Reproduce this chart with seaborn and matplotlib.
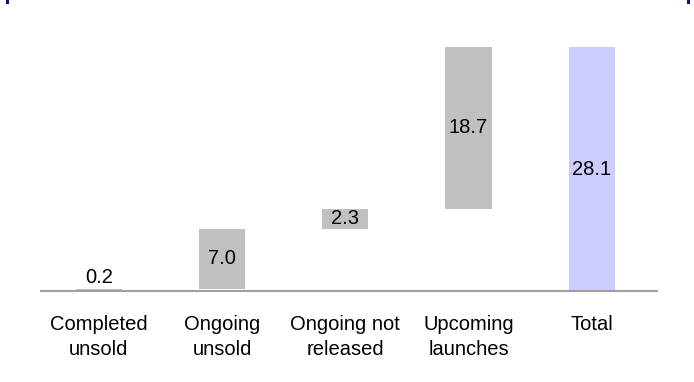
import matplotlib
matplotlib.use("Agg")
import matplotlib.pyplot as plt
import seaborn as sns
import pandas as pd
from matplotlib.patches import Rectangle

categories = ["Completed\nunsold", "Ongoing\nunsold", "Ongoing not\nreleased", "Upcoming\nlaunches", "Total"]
values = [0.2, 7.0, 2.3, 18.7, 28.1]
labels = ["0.2", "7.0", "2.3", "18.7", "28.1"]
is_total = [False, False, False, False, True]

# waterfall bases
bases = []
run = 0.0
for v, t in zip(values, is_total):
    if t:
        bases.append(0.0)
    else:
        bases.append(run)
        run += v
tops = [b + v for b, v in zip(bases, values)]

df = pd.DataFrame({"cat": categories, "top": tops, "base": bases, "val": values})

sns.set_theme(style="white")
plt.rcParams["font.family"] = ["Liberation Sans", "DejaVu Sans"]

fig = plt.figure(figsize=(6.94, 3.82), dpi=100)
ax = fig.add_axes([41/694, 1 - 291/382, (657-41)/694, (291-31)/382])

colors = ["#C0C0C0", "#C0C0C0", "#C0C0C0", "#C0C0C0", "#CCCCFF"]
sns.barplot(data=df, x="cat", y="top", hue="cat", palette=colors, legend=False,
            width=0.375, ax=ax, saturation=1, linewidth=0)
sns.barplot(data=df, x="cat", y="base", color="white", width=0.375, ax=ax,
            saturation=1, linewidth=0)

fs = 14.5
for i, (b, v, lab) in enumerate(zip(bases, values, labels)):
    if v < 1:
        ax.text(i, b + v + 0.3, lab, ha="center", va="bottom", fontsize=fs, color="black")
    else:
        ax.text(i, b + v / 2, lab, ha="center", va="center", fontsize=fs, color="black")

ax.set_xlim(-0.47, 4.53)
ax.set_ylim(0, 30)
for s in ["top", "right", "left"]:
    ax.spines[s].set_visible(False)
ax.spines["bottom"].set_color("#A0A0A0")
ax.spines["bottom"].set_linewidth(1.5)
ax.spines["bottom"].set_zorder(5)
ax.set_yticks([])
ax.set_xlabel("")
ax.set_ylabel("")
ax.tick_params(axis="x", length=0, pad=17, labelsize=fs, colors="black")
for t in ax.get_xticklabels():
    t.set_linespacing(1.45)

# small corner marks
fig.add_artist(Rectangle((6/694, 1 - 3.5/382), 3/694, 3.5/382, transform=fig.transFigure,
                         color="#1A0A80", lw=0))
fig.add_artist(Rectangle((687/694, 1 - 3.5/382), 3/694, 3.5/382, transform=fig.transFigure,
                         color="#1A0A80", lw=0))

fig.savefig("out.png", dpi=100)
